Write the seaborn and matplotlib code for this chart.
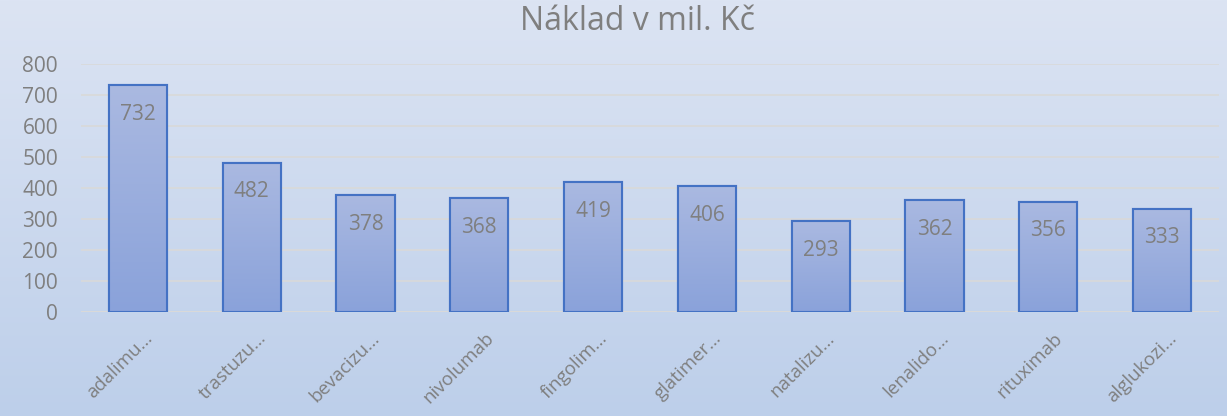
import numpy as np
import matplotlib
matplotlib.use('Agg')
import matplotlib.pyplot as plt
import matplotlib.transforms as mtransforms
from matplotlib.colors import LinearSegmentedColormap
import seaborn as sns

# data
drugs = ['adalimu…', 'trastuzu…', 'bevacizu…', 'nivolumab', 'fingolim…',
         'glatimer…', 'natalizu…', 'lenalido…', 'rituximab', 'alglukozi…']
cost = [732, 482, 378, 368, 419, 406, 293, 362, 356, 333]
y_ticks = [0, 100, 200, 300, 400, 500, 600, 700, 800]
title = 'Náklad v mil. Kč'

sns.set_style('white')
plt.rcParams['font.family'] = ['Open Sans', 'DejaVu Sans']
grey = '#7f7f7f'

fig = plt.figure(figsize=(12.27, 4.16), dpi=100)

# background gradient over whole figure
bg = fig.add_axes([0, 0, 1, 1], zorder=0)
bg_cmap = LinearSegmentedColormap.from_list('bg', ['#bdcfea', '#dce4f3'])
bg.imshow(np.linspace(0, 1, 256).reshape(-1, 1), aspect='auto', cmap=bg_cmap,
          origin='lower', extent=[0, 1, 0, 1])
bg.set_axis_off()

ax = fig.add_axes([81 / 1227, 1 - 312 / 416, 1138 / 1227, 248 / 416], zorder=1)
ax.patch.set_alpha(0)

sns.barplot(x=drugs, y=cost, ax=ax, width=0.51, color='#94a8dc',
            edgecolor='#4472c4', linewidth=1.5, zorder=3)

# gradient fill inside each bar
bar_cmap = LinearSegmentedColormap.from_list('bar', ['#8aa2da', '#aab9e1'])
grad = np.linspace(0, 1, 256).reshape(-1, 1)
for p in list(ax.patches):
    x0, y0 = p.get_x(), p.get_y()
    w, h = p.get_width(), p.get_height()
    im = ax.imshow(grad, aspect='auto', cmap=bar_cmap, origin='lower',
                   extent=[x0, x0 + w, y0, y0 + h], zorder=3.5)
    im.set_clip_path(p)
    ax.add_patch(plt.Rectangle((x0, y0), w, h, fill=False,
                               edgecolor='#4472c4', linewidth=1.5, zorder=4))

for i, v in enumerate(cost):
    ax.annotate(str(v), (i, v), xytext=(0, -25), textcoords='offset points',
                ha='center', va='baseline', fontsize=15, color=grey, zorder=5)

ax.set_xlim(-0.5, len(drugs) - 0.5)
ax.set_ylim(0, 800)
ax.set_yticks(y_ticks)
ax.grid(axis='y', color='#d9d9d9', linewidth=1.2, zorder=0)
ax.set_axisbelow(True)
for s in ax.spines.values():
    s.set_visible(False)
ax.axhline(0, color='#d9d9d9', linewidth=1.5, zorder=2)

ax.tick_params(axis='y', length=0, pad=16.5, labelsize=15, labelcolor=grey)
ax.tick_params(axis='x', length=0, pad=0, labelsize=13.5, labelcolor=grey)
ax.set_xticks(range(len(drugs)))
ax.set_xticklabels(drugs, rotation=45, ha='right', va='top', rotation_mode='anchor')
offset = mtransforms.ScaledTranslation(5 / 100, -17 / 100, fig.dpi_scale_trans)
for lab in ax.get_xticklabels():
    lab.set_transform(lab.get_transform() + offset)
for lab in ax.get_yticklabels():
    lab.set_horizontalalignment('right')

fig.text(637 / 1227, 1 - 22 / 416, title, ha='center', va='center',
         fontsize=23, color=grey)

fig.savefig('out.png', dpi=100)
